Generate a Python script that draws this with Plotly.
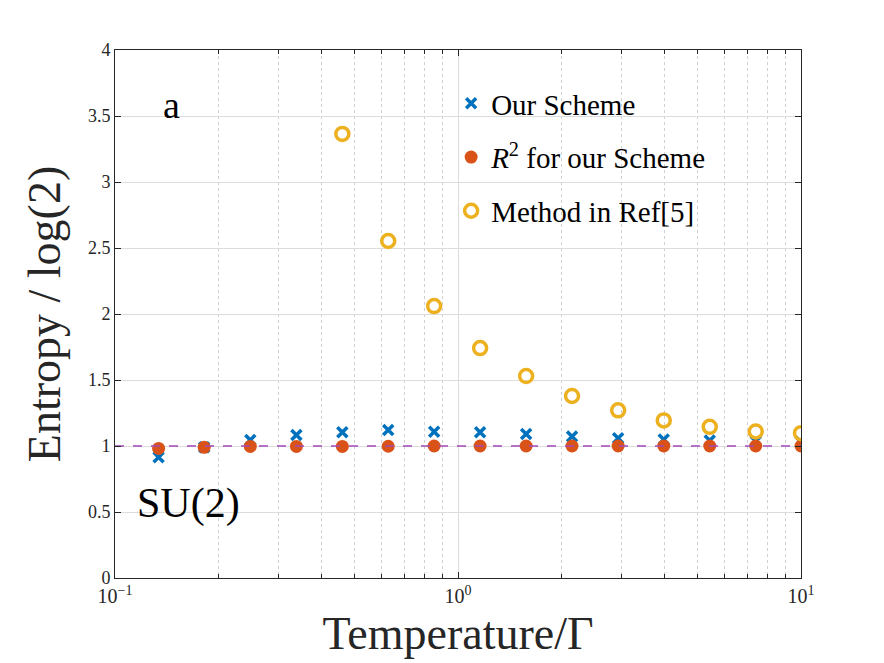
import plotly.graph_objects as go

temperature = [0.134, 0.182, 0.248, 0.338, 0.460, 0.626, 0.852, 1.16, 1.58, 2.15, 2.93, 3.98, 5.42, 7.38, 10.0]
our_scheme = [0.914, 0.99, 1.045, 1.083, 1.104, 1.121, 1.108, 1.104, 1.091, 1.072, 1.058, 1.050, 1.042, 1.036, 1.030]
r2_scheme = [0.982, 0.99, 0.997, 0.997, 0.997, 0.998, 1.0, 1.0, 1.0, 1.0, 1.0, 1.0, 1.0, 1.0, 1.0]
ref5 = [None, None, None, None, 3.364, 2.553, 2.060, 1.742, 1.530, 1.379, 1.270, 1.194, 1.145, 1.110, 1.097]
ref_line_x = [0.1, 10]
ref_line_y = [1, 1]

yticks = [0, 0.5, 1, 1.5, 2, 2.5, 3, 3.5, 4]
ytick_text = ["0", "0.5", "1", "1.5", "2", "2.5", "3", "3.5", "4"]
xticks = [0.1, 1, 10]
xtick_text = ["10<sup>−1</sup>", "10<sup>0</sup>", "10<sup>1</sup>"]

FONT = "Liberation Serif"
AX = "#262626"

fig = go.Figure()
fig.add_trace(go.Scatter(
    x=temperature, y=our_scheme, mode="markers", name="Our Scheme",
    legendgroup="a",
    marker=dict(symbol="x-thin", size=10, color="#0072BD",
                line=dict(color="#0072BD", width=3.5))))
fig.add_trace(go.Scatter(
    x=temperature, y=r2_scheme, mode="markers", name="<i>R</i><sup>2</sup> for our Scheme",
    legendgroup="b",
    marker=dict(symbol="circle", size=13, color="#D95319", line=dict(width=0))))
fig.add_trace(go.Scatter(
    x=temperature, y=ref5, mode="markers", name="Method in Ref[5]",
    legendgroup="c",
    marker=dict(symbol="circle-open", size=13, color="#EDB120",
                line=dict(color="#EDB120", width=3.5))))
fig.add_trace(go.Scatter(
    x=ref_line_x, y=ref_line_y, mode="lines", showlegend=False,
    line=dict(color="#A24AB8", width=1.3, dash="dash")))

fig.update_layout(
    width=884, height=663,
    margin=dict(l=115, r=83, t=50, b=85),
    paper_bgcolor="white", plot_bgcolor="white",
    font=dict(family=FONT, color=AX, size=16),
    showlegend=True,
    legend=dict(x=0.49, y=0.947, xanchor="left", yanchor="top",
                bgcolor="rgba(0,0,0,0)", font=dict(size=29, color="black"),
                tracegroupgap=13, itemsizing="trace"),
    annotations=[
        dict(text="a", x=0.083, y=0.895, xref="paper", yref="paper",
             showarrow=False, font=dict(size=38, color="black", family=FONT),
             xanchor="center", yanchor="middle"),
        dict(text="SU(2)", x=0.107, y=0.142, xref="paper", yref="paper",
             showarrow=False, font=dict(size=42, color="black", family=FONT),
             xanchor="center", yanchor="middle"),
    ],
)

fig.update_xaxes(
    type="log", range=[-1, 1],
    tickvals=xticks, ticktext=xtick_text,
    ticks="inside", ticklen=6, tickcolor=AX,
    showline=True, linecolor=AX, linewidth=1, mirror="ticks",
    showgrid=True, gridcolor="#dcdcdc", gridwidth=1,
    zeroline=False,
    tickfont=dict(size=20, color=AX),
    title=dict(text="Temperature/Γ", font=dict(size=46, color=AX), standoff=10),
    minor=dict(ticks="inside", ticklen=4, tickcolor=AX, showgrid=True,
               gridcolor="#d0d0d0", griddash="dot", gridwidth=1, dtick="D1"),
)
fig.update_yaxes(
    range=[0, 4], tickvals=yticks, ticktext=ytick_text,
    ticks="inside", ticklen=6, tickcolor=AX,
    showline=True, linecolor=AX, linewidth=1, mirror="ticks",
    showgrid=True, gridcolor="#dcdcdc", gridwidth=1,
    zeroline=False,
    tickfont=dict(size=18, color=AX),
    title=dict(text="Entropy / log(2)", font=dict(size=46, color=AX), standoff=12),
)

fig.write_html("out.html")
